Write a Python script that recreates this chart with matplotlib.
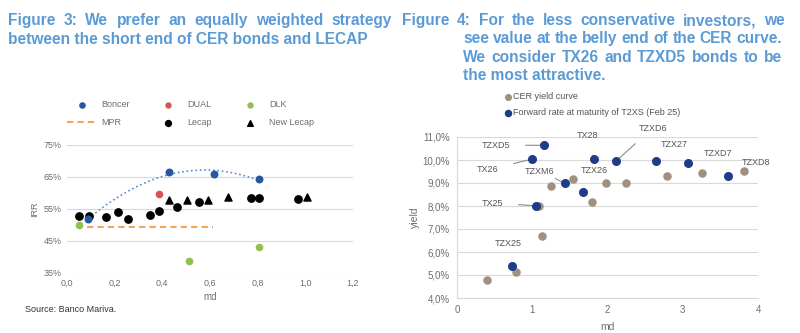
import numpy as np
import matplotlib.pyplot as plt
from matplotlib.ticker import FuncFormatter

plt.rcParams['font.family'] = ['Liberation Sans', 'DejaVu Sans']

# ---- Figure 3 data (md, IRR %)
boncer_md = [0.09, 0.426, 0.617, 0.806]
boncer_irr = [51.8, 66.7, 65.8, 64.3]
dual_md = [0.386]
dual_irr = [59.7]
dlk_md = [0.052, 0.513, 0.806]
dlk_irr = [50.0, 38.9, 43.2]
lecap_md = [0.052, 0.091, 0.165, 0.213, 0.254, 0.349, 0.386, 0.460, 0.554, 0.772, 0.805, 0.970]
lecap_irr = [52.8, 52.8, 52.4, 54.1, 52.0, 53.1, 54.4, 55.7, 57.2, 58.5, 58.5, 58.2]
newlecap_md = [0.426, 0.502, 0.593, 0.677, 1.005]
newlecap_irr = [57.8, 57.8, 57.8, 58.9, 58.9]
mpr_md = [0.084, 0.614]
mpr_irr = [49.3, 49.3]

# ---- Figure 4 data (md, yield %)
cer_md = [0.40, 0.79, 1.13, 1.09, 1.25, 1.54, 1.79, 1.98, 2.25, 2.79, 3.26, 3.81]
cer_yield = [4.80, 5.13, 6.71, 8.01, 8.86, 9.17, 8.16, 8.99, 8.99, 9.32, 9.43, 9.51]
fwd_names = ['TZXD5', 'TX26', 'TX28', 'TZXD6', 'TZX27', 'TZXD7', 'TZXD8', 'TZXM6', 'TZX26', 'TX25', 'TZX25']
fwd_md = [1.15, 1.00, 1.82, 2.11, 2.64, 3.07, 3.60, 1.435, 1.67, 1.045, 0.73]
fwd_yield = [10.64, 10.04, 10.04, 9.94, 9.94, 9.87, 9.29, 8.99, 8.62, 8.01, 5.41]
label_md = [0.52, 0.41, 1.74, 2.60, 2.89, 3.47, 3.98, 1.10, 1.82, 0.47, 0.68]
label_yield = [10.64, 9.58, 11.06, 11.39, 10.67, 10.30, 9.87, 9.51, 9.55, 8.13, 6.39]

title_col = '#5b9bd5'
tick_col = '#6e6e6e'
grid_col = '#d9d9d9'
W, H = 800, 333

fig = plt.figure(figsize=(8, 3.33), dpi=100)
renderer = fig.canvas.get_renderer()
title_kw = dict(color=title_col, fontsize=11.2, fontweight='bold', va='baseline')


def title_line(text, x0, y, x1=None):
    # y is the line's centre in pixels; x1 given -> justify the words
    yb = 1 - (y + 5) / H
    if x1 is None:
        fig.text(x0 / W, yb, text, **title_kw)
        return
    words = text.split()
    texts = [fig.text(0, yb, w, **title_kw) for w in words]
    widths = [t.get_window_extent(renderer).width for t in texts]
    gap = (x1 - x0 - sum(widths)) / (len(words) - 1)
    x = x0
    for t, w in zip(texts, widths):
        t.set_x(x / W)
        x += w + gap


title_line('Figure 3: We prefer an equally weighted strategy', 8, 20, 392)
title_line('between the short end of CER bonds and LECAP', 8, 39)
title_line('Figure 4: For the less conservative investors, we', 402, 20, 785)
title_line('see value at the belly end of the CER curve.', 463, 38, 782)
title_line('We consider TX26 and TZXD5 bonds to be', 463, 57, 782)
title_line('the most attractive.', 463, 75)

# ---- left chart
ax1 = fig.add_axes([67 / W, 1 - 273 / H, 286 / W, 128 / H])
h_lecap = ax1.scatter(lecap_md, lecap_irr, s=28, color='black', zorder=3)
h_new = ax1.scatter(newlecap_md, newlecap_irr, s=26, marker='^', color='black', zorder=3)
h_boncer = ax1.scatter(boncer_md, boncer_irr, s=22, color='#2459a0', zorder=4)
h_dual = ax1.scatter(dual_md, dual_irr, s=20, color='#d9534f', zorder=4)
h_dlk = ax1.scatter(dlk_md, dlk_irr, s=20, color='#92c050', zorder=4)
h_mpr, = ax1.plot(mpr_md, mpr_irr, color='#f5a45d', lw=1.5, ls=(0, (3, 2)))
coef = np.polyfit(boncer_md, boncer_irr, 2)
xs = np.linspace(boncer_md[0], boncer_md[-1], 60)
ax1.plot(xs, np.polyval(coef, xs), color='#5b8bc8', lw=1.2, ls=':', zorder=2)

ax1.set_xlim(0, 1.2)
ax1.set_ylim(35, 75)
ax1.set_xticks(np.arange(0, 1.21, 0.2))
ax1.set_yticks([35, 45, 55, 65, 75])
ax1.xaxis.set_major_formatter(FuncFormatter(lambda v, p: f'{v:.1f}'.replace('.', ',')))
ax1.yaxis.set_major_formatter(FuncFormatter(lambda v, p: f'{v:.0f}%'))
ax1.grid(axis='y', color=grid_col, lw=0.8)
ax1.set_axisbelow(True)
for s in ax1.spines.values():
    s.set_visible(False)
ax1.tick_params(length=0, labelsize=6.5, colors=tick_col, pad=4)
ax1.set_xlabel('md', fontsize=7, color=tick_col, labelpad=3)
ax1.set_ylabel('IRR', fontsize=6.5, color=tick_col, labelpad=3)

# legend: three one-column legends so the columns sit where they should
columns = [([h_boncer, h_mpr], ['Boncer', 'MPR'], 67),
           ([h_dual, h_lecap], ['DUAL', 'Lecap'], 153),
           ([h_dlk, h_new], ['DLK', 'New Lecap'], 235)]
for handles, labels, xpos in columns:
    lg = fig.legend(handles, labels, loc='upper left', bbox_to_anchor=(xpos / W, 1 - 100 / H),
                    frameon=False, fontsize=6.5, borderpad=0, borderaxespad=0,
                    handlelength=3.4, handletextpad=0.4, labelspacing=1.05, markerscale=0.8)
    for t in lg.get_texts():
        t.set_color(tick_col)

fig.text(25 / W, 1 - 310 / H, 'Source: Banco Mariva.', fontsize=6.5, color='#333333', va='center')

# ---- right chart
ax2 = fig.add_axes([457 / W, 1 - 298 / H, 301 / W, 161 / H])
h_cer = ax2.scatter(cer_md, cer_yield, s=26, color='#a09080', zorder=3)
h_fwd = ax2.scatter(fwd_md, fwd_yield, s=30, color='#1f3c88', zorder=4)
for name, x, y, lx, ly in zip(fwd_names, fwd_md, fwd_yield, label_md, label_yield):
    ax2.annotate(name, xy=(x, y), xytext=(lx, ly), fontsize=6.5, color='#555555',
                 ha='center', va='center', annotation_clip=False,
                 arrowprops=dict(arrowstyle='-', color='#8c8c8c', lw=0.8,
                                 shrinkA=9, shrinkB=2))
ax2.set_xlim(0, 4)
ax2.set_ylim(4, 11)
ax2.set_xticks([0, 1, 2, 3, 4])
ax2.set_yticks(np.arange(4, 11.1, 1))
ax2.yaxis.set_major_formatter(FuncFormatter(lambda v, p: f'{v:.1f}%'.replace('.', ',')))
ax2.grid(axis='y', color=grid_col, lw=0.8)
ax2.set_axisbelow(True)
for k in ['top', 'right']:
    ax2.spines[k].set_visible(False)
for k in ['left', 'bottom']:
    ax2.spines[k].set_color(grid_col)
ax2.tick_params(length=0, labelsize=7, colors=tick_col, pad=5)
ax2.set_xlabel('md', fontsize=7.5, color=tick_col, labelpad=5)
ax2.set_ylabel('yield', fontsize=7.5, color=tick_col, labelpad=2)
leg2 = fig.legend([h_cer, h_fwd], ['CER yield curve', 'Forward rate at maturity of T2XS (Feb 25)'],
                  loc='upper left', bbox_to_anchor=(503 / W, 1 - 92 / H), frameon=False,
                  fontsize=6.5, borderpad=0, borderaxespad=0, handletextpad=0.1,
                  handlelength=1.0, labelspacing=0.8, markerscale=0.8)
for t in leg2.get_texts():
    t.set_color('#555555')

fig.savefig('out.png', dpi=100)
